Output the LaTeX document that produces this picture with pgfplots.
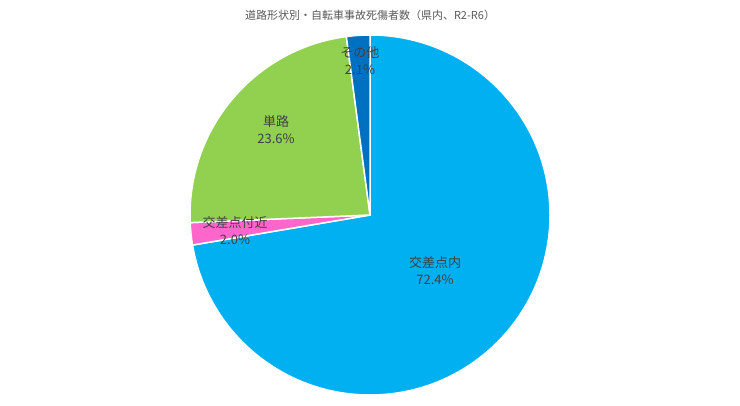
\documentclass[border=0pt]{standalone}
\usepackage{fontspec}
\setmainfont{Noto Sans CJK JP}
\usepackage{pgfplots}
\pgfplotsset{compat=1.18}
\usepackage{pgfplotstable}

\definecolor{cInner}{HTML}{00B0F0}
\definecolor{cNear}{HTML}{FF66CC}
\definecolor{cRoad}{HTML}{92D050}
\definecolor{cOther}{HTML}{0070C0}
\definecolor{cLabel}{HTML}{404040}
\definecolor{cTitle}{HTML}{595959}

% share in %, clockwise from 12 o'clock
\pgfplotstableread{
label value
inner 72.4
near  2.0
road  23.6
other 2.1
}\piedata

\begin{document}
\begin{tikzpicture}[
    slice/.style={draw=white, line width=1.5bp, line join=round},
    lbl/.style={font=\fontsize{13bp}{17bp}\selectfont, text=cLabel, align=center},
]
\pgfplotstablegetelem{0}{value}\of\piedata \let\va\pgfplotsretval
\pgfplotstablegetelem{1}{value}\of\piedata \let\vb\pgfplotsretval
\pgfplotstablegetelem{2}{value}\of\piedata \let\vc\pgfplotsretval
\pgfplotstablegetelem{3}{value}\of\piedata \let\vd\pgfplotsretval
\pgfmathsetmacro\tot{\va+\vb+\vc+\vd}
\pgfmathsetmacro\aA{90}
\pgfmathsetmacro\aB{\aA-360*(\va/\tot)}
\pgfmathsetmacro\aC{\aB-360*(\vb/\tot)}
\pgfmathsetmacro\aD{\aC-360*(\vc/\tot)}
\pgfmathsetmacro\aE{\aD-360*(\vd/\tot)}
\pgfmathsetmacro\xA{cos(\aA)}\pgfmathsetmacro\yA{sin(\aA)}
\pgfmathsetmacro\xB{cos(\aB)}\pgfmathsetmacro\yB{sin(\aB)}
\pgfmathsetmacro\xC{cos(\aC)}\pgfmathsetmacro\yC{sin(\aC)}
\pgfmathsetmacro\xD{cos(\aD)}\pgfmathsetmacro\yD{sin(\aD)}
\useasboundingbox (0,0) rectangle (740bp,406bp);
\begin{axis}[
    at={(0,0)}, anchor=south west,
    width=740bp, height=406bp, scale only axis,
    xmin=-2.05556, xmax=2.05556,
    ymin=-1.06111, ymax=1.19444,
    hide axis, clip=false,
]
\fill[cInner, slice] (axis cs:0,0) -- (axis cs:\xA,\yA)
    arc[start angle=\aA, end angle=\aB, radius=180bp] -- cycle;
\fill[cNear, slice] (axis cs:0,0) -- (axis cs:\xB,\yB)
    arc[start angle=\aB, end angle=\aC, radius=180bp] -- cycle;
\fill[cRoad, slice] (axis cs:0,0) -- (axis cs:\xC,\yC)
    arc[start angle=\aC, end angle=\aD, radius=180bp] -- cycle;
\fill[cOther, slice] (axis cs:0,0) -- (axis cs:\xD,\yD)
    arc[start angle=\aD, end angle=\aE, radius=180bp] -- cycle;

\node[lbl] at (axis cs:0.3611,-0.3083) {交差点内\\72.4\%};
\node[lbl] at (axis cs:-0.75,-0.0861) {交差点付近\\2.0\%};
\node[lbl] at (axis cs:-0.5222,0.475) {単路\\23.6\%};
\node[lbl] at (axis cs:-0.0556,0.8556) {その他\\2.1\%};

\node[font=\fontsize{11bp}{13bp}\selectfont, text=cTitle]
    at (axis cs:0,1.1111) {道路形状別・自転車事故死傷者数（県内、R2-R6）};
\end{axis}
\end{tikzpicture}
\end{document}
